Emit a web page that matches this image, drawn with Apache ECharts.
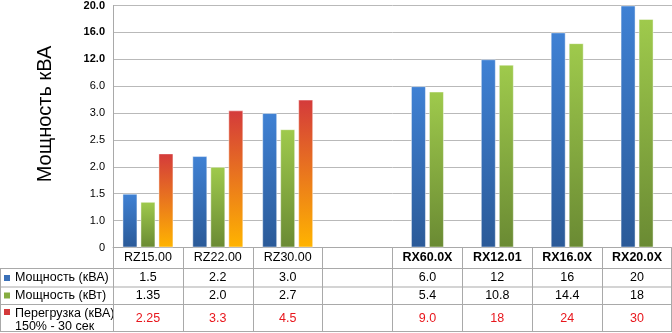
<!DOCTYPE html>
<html>
<head>
<meta charset="utf-8">
<script src="https://cdn.jsdelivr.net/npm/echarts@6/dist/echarts.min.js"></script>
<style>
  html, body { margin: 0; padding: 0; background: #fff; }
  #chart { width: 672px; height: 333px; }
</style>
</head>
<body>
<div id="chart"></div>
<script>
// Models along the x axis (the empty slot separates the RZ and RX families)
const categories = ['RZ15.00', 'RZ22.00', 'RZ30.00', '', 'RX60.0X', 'RX12.01', 'RX16.0X', 'RX20.0X'];

// Table / bar values
const powerKVA    = [1.5, 2.2, 3.0, null, 6.0, 12, 16, 20];
const powerKW     = [1.35, 2.0, 2.7, null, 5.4, 10.8, 14.4, 18];
const overloadKVA = [2.25, 3.3, 4.5, null, 9.0, 18, 24, 30];

// Uneven value scale: each tick is one equal step on the axis
const tickValues = [0, 1.0, 1.5, 2.0, 2.5, 3.0, 6.0, 12.0, 16.0, 20.0];
const tickLabels = ['0', '1.0', '1.5', '2.0', '2.5', '3.0', '6.0', '12.0', '16.0', '20.0'];

const seriesNames = ['Мощность (кВА)', 'Мощность (кВт)', 'Перегрузка (кВА)'];
const overloadNote = '150% - 30 сек';
const axisTitle = 'Мощность кВА';

const COLORS = {
  blue:  ['#3f81d4', '#2b5a98'],
  green: ['#9fca4c', '#6a8a33'],
  red:   ['#d43a3b', '#ffb400']
};
const FONT = 'Liberation Sans, Arial, sans-serif';
const TABLE_FONT_SIZE = 12.5;
const LINE = '#a9a9a9';

// Map a real value onto the stepped axis (piecewise linear between ticks)
function toLevel(v) {
  if (v == null) return null;
  for (let i = 0; i < tickValues.length - 1; i++) {
    const a = tickValues[i], b = tickValues[i + 1];
    if (v <= b) return i + (v - a) / (b - a);
  }
  return tickValues.length - 1;
}

function fmt(v) {
  if (v == null) return '';
  if (Number.isInteger(v)) return v >= 10 ? String(v) : v.toFixed(1);
  return String(v);
}

function grad(c) {
  return new echarts.graphic.LinearGradient(0, 0, 0, 1, [
    { offset: 0, color: c[0] },
    { offset: 1, color: c[1] }
  ]);
}

const isRZ = i => i < 3;
const isRX = i => i >= 4;
const pick = (arr, test) => arr.map((v, i) => (test(i) ? toLevel(v) : null));

function barSeries(name, values, test, color, axisIndex) {
  return {
    name: name,
    type: 'bar',
    xAxisIndex: axisIndex,
    yAxisIndex: 0,
    barWidth: 15,
    barGap: '20%',
    data: pick(values, test),
    itemStyle: {
      color: grad(color),
      borderColor: 'rgba(255,255,255,0.45)',
      borderWidth: 1
    },
    emphasis: { disabled: true }
  };
}

// Rows of the data table under the plot, drawn as extra category axes
function rowAxis(values, margin, color) {
  return {
    type: 'category',
    gridIndex: 0,
    position: 'bottom',
    data: categories,
    axisLine: { show: false },
    axisTick: { show: false },
    splitLine: { show: false },
    axisLabel: {
      interval: 0,
      margin: margin,
      verticalAlign: 'middle',
      fontFamily: FONT,
      fontSize: TABLE_FONT_SIZE,
      color: color,
      formatter: (val, idx) => fmt(values[idx])
    }
  };
}

const chart = echarts.init(document.getElementById('chart'), null, { renderer: 'canvas' });

const tableTop = 247.5;
const rowLines = [268.5, 287, 304.5, 331.5];
const rowCenters = [278, 295.7, 318.5];

const graphic = [];
rowLines.forEach(y => {
  graphic.push({
    type: 'line', silent: true,
    shape: { x1: 0, y1: y, x2: 672, y2: y },
    style: { stroke: LINE, lineWidth: 1 }
  });
});
graphic.push({
  type: 'line', silent: true,
  shape: { x1: 0.5, y1: rowLines[0], x2: 0.5, y2: rowLines[3] },
  style: { stroke: LINE, lineWidth: 1 }
});
graphic.push({
  type: 'line', silent: true,
  shape: { x1: 671.5, y1: tableTop, x2: 671.5, y2: rowLines[3] },
  style: { stroke: LINE, lineWidth: 1 }
});
// Row headers with colour keys
const keyFill = ['#3a70b8', '#86ad41', '#d43a3b'];
const keyY = [278, 295.5, 312];
keyFill.forEach((c, i) => {
  graphic.push({
    type: 'rect', silent: true,
    shape: { x: 4, y: keyY[i] - 3, width: 6, height: 6 },
    style: { fill: c }
  });
  graphic.push({
    type: 'text', silent: true,
    x: 15, y: i === 2 ? 320 : keyY[i],
    style: {
      text: i === 2 ? seriesNames[i] + '\n' + overloadNote : seriesNames[i],
      font: TABLE_FONT_SIZE + 'px ' + FONT,
      fill: '#000',
      verticalAlign: 'middle',
      lineHeight: 13.4
    }
  });
});
// Axis title
graphic.push({
  type: 'text', silent: true,
  x: 45, y: 114, rotation: Math.PI / 2,
  style: {
    text: axisTitle,
    font: '20px ' + FONT,
    fill: '#000',
    align: 'center',
    verticalAlign: 'middle'
  }
});

chart.setOption({
  animation: false,
  backgroundColor: '#fff',
  grid: { left: 113, right: 0, top: 4, bottom: 333 - tableTop, containLabel: false },
  xAxis: [
    {
      type: 'category',
      gridIndex: 0,
      position: 'bottom',
      data: categories,
      axisLine: { show: true, lineStyle: { color: LINE, width: 1 } },
      axisTick: { show: true, alignWithLabel: false, length: rowLines[3] - tableTop, lineStyle: { color: LINE } },
      axisLabel: {
        interval: 0,
        margin: 10.5,
        verticalAlign: 'middle',
        fontFamily: FONT,
        fontSize: TABLE_FONT_SIZE,
        color: '#000',
        formatter: (val, idx) => (isRX(idx) ? '{b|' + val + '}' : val),
        rich: { b: { fontFamily: FONT, fontSize: TABLE_FONT_SIZE, fontWeight: 'bold', color: '#000' } }
      }
    },
    {
      type: 'category',
      gridIndex: 0,
      position: 'bottom',
      data: categories,
      show: false
    },
    rowAxis(powerKVA, rowCenters[0] - tableTop, '#000'),
    rowAxis(powerKW, rowCenters[1] - tableTop, '#000'),
    rowAxis(overloadKVA, rowCenters[2] - tableTop, '#e8161c')
  ],
  yAxis: {
    type: 'value',
    min: 0,
    max: tickValues.length - 1,
    interval: 1,
    axisLine: { show: true, lineStyle: { color: LINE } },
    axisTick: { show: false },
    splitLine: { show: true, lineStyle: { color: '#b9b9b9', width: 1 } },
    axisLabel: {
      margin: 8,
      fontFamily: FONT,
      fontSize: 11,
      color: '#000',
      formatter: v => {
        const t = tickLabels[Math.round(v)];
        return tickValues[Math.round(v)] >= 12 ? '{b|' + t + '}' : t;
      },
      rich: { b: { fontFamily: FONT, fontSize: 11, fontWeight: 'bold', color: '#000' } }
    }
  },
  series: [
    barSeries(seriesNames[0], powerKVA, isRZ, COLORS.blue, 0),
    barSeries(seriesNames[1], powerKW, isRZ, COLORS.green, 0),
    barSeries(seriesNames[2], overloadKVA, isRZ, COLORS.red, 0),
    barSeries(seriesNames[0], powerKVA, isRX, COLORS.blue, 1),
    barSeries(seriesNames[1], powerKW, isRX, COLORS.green, 1)
  ],
  graphic: graphic
});
</script>
</body>
</html>
